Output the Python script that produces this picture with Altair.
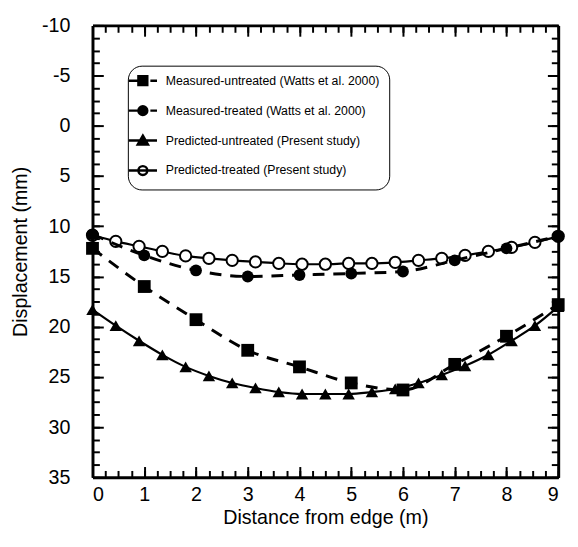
import altair as alt
import pandas as pd

FONT = "Liberation Sans"

# ---- data ----
x_measured = [0, 1, 2, 3, 4, 5, 6, 7, 8, 9]
measured_untreated = [12.2, 16.0, 19.3, 22.35, 24.0, 25.6, 26.3, 23.75, 20.95, 17.8]
measured_treated = [10.8, 12.9, 14.4, 15.0, 14.85, 14.7, 14.5, 13.4, 12.2, 11.0]

x_predicted = [0.0, 0.45, 0.9, 1.35, 1.8, 2.25, 2.7, 3.15, 3.6, 4.05, 4.5,
               4.95, 5.4, 5.85, 6.3, 6.75, 7.2, 7.65, 8.1, 8.55, 9.0]
predicted_untreated = [18.3, 19.9, 21.4, 22.8, 24.0, 24.9, 25.6, 26.1, 26.5, 26.7, 26.7,
                       26.7, 26.5, 26.2, 25.6, 24.8, 23.9, 22.8, 21.4, 19.9, 18.0]
predicted_treated = [10.9, 11.5, 12.0, 12.5, 12.95, 13.2, 13.4, 13.55, 13.7, 13.78, 13.78,
                     13.7, 13.7, 13.6, 13.4, 13.2, 12.9, 12.5, 12.1, 11.6, 11.0]

series_names = [
    "Measured-untreated (Watts et al. 2000)",
    "Measured-treated (Watts et al. 2000)",
    "Predicted-untreated (Present study)",
    "Predicted-treated (Present study)",
]

x_ticks = [0, 1, 2, 3, 4, 5, 6, 7, 8, 9]
y_ticks = [-10, -5, 0, 5, 10, 15, 20, 25, 30, 35]
x_minor = [i * 0.25 for i in range(0, 37)]
y_minor = [-10 + i * 1.25 for i in range(0, 37)]

W, H = 474, 460

df_mu = pd.DataFrame({"x": x_measured, "y": measured_untreated})
df_mt = pd.DataFrame({"x": x_measured, "y": measured_treated})
df_pu = pd.DataFrame({"x": x_predicted, "y": predicted_untreated})
df_pt = pd.DataFrame({"x": x_predicted, "y": predicted_treated})
df_leg = pd.DataFrame({"series": series_names, "x": [0.0] * 4, "y": [0.0] * 4})

xs = alt.Scale(domain=[0, 9], nice=False, zero=False)
ys = alt.Scale(domain=[-10, 35], reverse=True, nice=False, zero=False)


def tick_axis(orient, offset, values, size, domain):
    return alt.Axis(orient=orient, offset=offset, values=values, labels=False,
                    ticks=True, tickSize=size, tickWidth=2, tickColor="black",
                    domain=domain, domainWidth=3, domainColor="black",
                    grid=False, title=None)


label_x_axis = alt.Axis(orient="bottom", values=x_ticks, labelExpr="'' + datum.value",
                        ticks=False, tickSize=0,
                        labelPadding=8, labelFont=FONT, labelFontSize=20, labelColor="black",
                        title="Distance from edge (m)", titleFont=FONT, titleFontSize=20,
                        titleFontWeight="normal", titleColor="black", titlePadding=3,
                        domain=True, domainWidth=3, domainColor="black", grid=False)
label_y_axis = alt.Axis(orient="left", values=y_ticks, labelExpr="'' + datum.value",
                        ticks=False, tickSize=0,
                        labelPadding=23, labelFont=FONT, labelFontSize=20, labelColor="black",
                        title="Displacement (mm)", titleFont=FONT, titleFontSize=20,
                        titleFontWeight="normal", titleColor="black", titlePadding=11,
                        domain=True, domainWidth=3, domainColor="black", grid=False)

axes = [
    (label_x_axis, label_y_axis),
    (tick_axis("bottom", -H, x_ticks, 11, True), tick_axis("right", -W, y_ticks, 11, False)),
    (tick_axis("bottom", -H, x_minor, 7, False), tick_axis("right", -W, y_minor, 7, False)),
    (tick_axis("top", -H, x_ticks, 11, False), tick_axis("left", -W, y_ticks, 11, True)),
    (tick_axis("top", -H, x_minor, 7, False), tick_axis("left", -W, y_minor, 7, False)),
]


def enc(chart, i):
    if i < len(axes):
        ax, ay = axes[i]
        return chart.encode(x=alt.X("x:Q", scale=xs, axis=ax),
                            y=alt.Y("y:Q", scale=ys, axis=ay))
    return chart.encode(x=alt.X("x:Q", scale=xs, axis=None),
                        y=alt.Y("y:Q", scale=ys, axis=None))


raw_layers = [
    alt.Chart(df_pt).mark_line(color="black", strokeWidth=2.2, interpolate="monotone"),
    alt.Chart(df_pt).mark_point(shape="circle", size=132, filled=True, fill="white",
                                stroke="black", strokeWidth=2, opacity=1),
    alt.Chart(df_pu).mark_line(color="black", strokeWidth=2.2, interpolate="monotone"),
    alt.Chart(df_pu).mark_point(shape="triangle-up", size=160, filled=True, color="black", opacity=1),
    alt.Chart(df_mu).mark_line(color="black", strokeWidth=3, strokeDash=[12, 9], interpolate="monotone"),
    alt.Chart(df_mt).mark_line(color="black", strokeWidth=3, strokeDash=[12, 9], interpolate="monotone"),
    alt.Chart(df_mu).mark_point(shape="square", size=170, filled=True, color="black", opacity=1),
    alt.Chart(df_mt).mark_point(shape="circle", size=145, filled=True, color="black", opacity=1),
]
layers = [enc(c, i) for i, c in enumerate(raw_layers)]

legend_paths = [
    "M-3.2,0H-1M-1,-1H1V1H-1ZM1.7,0H3.2",
    "M-3.2,0H-1M-1,0A1,1,0,1,0,1,0A1,1,0,1,0,-1,0ZM1.7,0H3.2",
    "M-3.2,0H3.2M0,-1.1L1.15,0.9H-1.15Z",
    "M-3.2,0H3.2M-1,0A1,1,0,1,0,1,0A1,1,0,1,0,-1,0Z",
]
leg = alt.Legend(orient="none", legendX=36, legendY=41, title=None,
                 labelFont=FONT, labelFontSize=12.5, labelColor="black", labelOffset=17,
                 labelLimit=500,
                 symbolSize=81, symbolStrokeColor="black", symbolStrokeWidth=2.5,
                 symbolOpacity=1, strokeColor="black", cornerRadius=14,
                 fillColor="white", padding=9, rowPadding=10.5, offset=0)

legend_layer = alt.Chart(df_leg).transform_filter("false").mark_point(
    filled=True, strokeWidth=2.5, opacity=1, size=81
).encode(
    x=alt.X("x:Q", scale=xs, axis=None),
    y=alt.Y("y:Q", scale=ys, axis=None),
    shape=alt.Shape("series:N", scale=alt.Scale(domain=series_names, range=legend_paths), legend=leg),
    fill=alt.Fill("series:N", scale=alt.Scale(domain=series_names,
                                               range=["black", "black", "black", "white"]), legend=leg),
    stroke=alt.Stroke("series:N", scale=alt.Scale(domain=series_names,
                                                   range=["black", "black", "black", "black"]), legend=leg),
)

chart = alt.layer(*layers, legend_layer).resolve_axis(
    x="independent", y="independent"
).properties(
    width=W, height=H, background="white",
    padding={"left": 3, "top": 3, "right": 2, "bottom": 5},
).configure_view(stroke=None)

chart.save("out.html", embed_options={"renderer": "svg", "actions": False})
